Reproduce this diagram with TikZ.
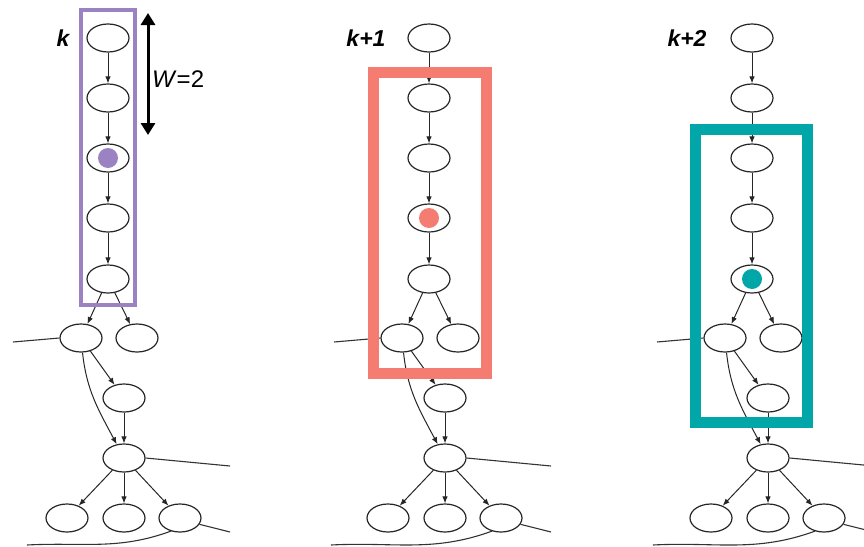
\documentclass[tikz,border=0pt]{standalone}
\usepackage{fontspec}
\setmainfont{Liberation Sans}
\usetikzlibrary{arrows.meta,shapes.geometric}

\definecolor{winpurple}{RGB}{155,130,195}
\definecolor{winsalmon}{RGB}{244,124,112}
\definecolor{winteal}{RGB}{0,166,168}

\tikzset{
  x=1pt, y=-1pt,
  state/.style={ellipse, draw=black!85, line width=1.2pt, fill=white,
    minimum width=42pt, minimum height=28pt, inner sep=0pt},
  flow/.style={draw=black!85, line width=1pt, -{Latex[length=7pt,width=5.5pt]}},
  link/.style={draw=black!80, line width=1.1pt},
  dotmark/.style={circle, inner sep=0pt, minimum size=20pt},
  steplabel/.style={font=\fontsize{23}{27}\selectfont\bfseries\itshape},
  winbox/.style={draw, line width=#1},
}

% One copy of the graph, with its column at x = #2
% #1: name prefix, #3: start of the lower free line (relative to the column)
\newcommand{\drawgraph}[3]{%
  \begin{scope}[shift={(#2,0)}]
    \node[state] (#1n1) at (0,38) {};
    \node[state] (#1n2) at (0,98) {};
    \node[state] (#1n3) at (0,158) {};
    \node[state] (#1n4) at (0,218) {};
    \node[state] (#1n5) at (0,279) {};
    \node[state] (#1l)  at (-27,338) {};
    \node[state] (#1r)  at (29,338) {};
    \node[state] (#1m)  at (16,398) {};
    \node[state] (#1j)  at (16,458) {};
    \node[state] (#1b1) at (-41,518) {};
    \node[state] (#1b2) at (16,518) {};
    \node[state] (#1b3) at (72,518) {};
    \coordinate (#1ea) at (-95,342);
    \coordinate (#1eb) at (122,466);
    \coordinate (#1ec) at (122,532);
    \coordinate (#1ed) at (#3,545);
    \draw[flow] (#1n1) -- (#1n2);
    \draw[flow] (#1n2) -- (#1n3);
    \draw[flow] (#1n3) -- (#1n4);
    \draw[flow] (#1n4) -- (#1n5);
    \draw[flow] (#1n5) -- (#1l);
    \draw[flow] (#1n5) -- (#1r);
    \draw[flow] (#1l) -- (#1m);
    \draw[flow] (#1l) to[out=-84, in=118] (#1j);
    \draw[flow] (#1m) -- (#1j);
    \draw[flow] (#1j) -- (#1b1);
    \draw[flow] (#1j) -- (#1b2);
    \draw[flow] (#1j) -- (#1b3);
    \draw[link] (#1ea) -- (#1l.west);
    \draw[link] (#1j.east) -- (#1eb);
    \draw[link] (#1b3.-18) -- (#1ec);
    \draw[link] (#1ed) to[out=3, in=-160] (#1b3.-125);
  \end{scope}%
}

\begin{document}
\begin{tikzpicture}
  \useasboundingbox (0,0) rectangle (864,546);

  \drawgraph{a}{108}{-81}
  \drawgraph{b}{429}{-98}
  \drawgraph{c}{752}{-99}

  % current window positions
  \node[dotmark, fill=winpurple] (pdot) at (an3) {};
  \node[dotmark, fill=winsalmon] (sdot) at (bn4) {};
  \node[dotmark, fill=winteal]   (tdot) at (cn5) {};

  % sliding windows
  \draw[winbox=3.5pt, winpurple] (81,10) rectangle (135,305);
  \draw[winbox=11pt, winsalmon] (373.5,72.5) rectangle (486.5,373);
  \draw[winbox=11pt, winteal] (695.5,129) rectangle (807.5,422.5);

  % window width marker
  \coordinate (wtop) at (148,13);
  \coordinate (wbot) at (148,135);
  \draw[line width=3pt, {Triangle[length=12pt,width=14pt]}-{Triangle[length=12pt,width=14pt]}] (wtop) -- (wbot);
  \node[anchor=west, font=\fontsize{24}{28}\selectfont, inner sep=0pt] (wlabel) at (152,79) {\textit{W}=2};

  % step labels
  \node[steplabel] (ka) at (63,38) {k};
  \node[steplabel] (kb) at (366,38) {k+1};
  \node[steplabel] (kc) at (687,38) {k+2};
\end{tikzpicture}
\end{document}
